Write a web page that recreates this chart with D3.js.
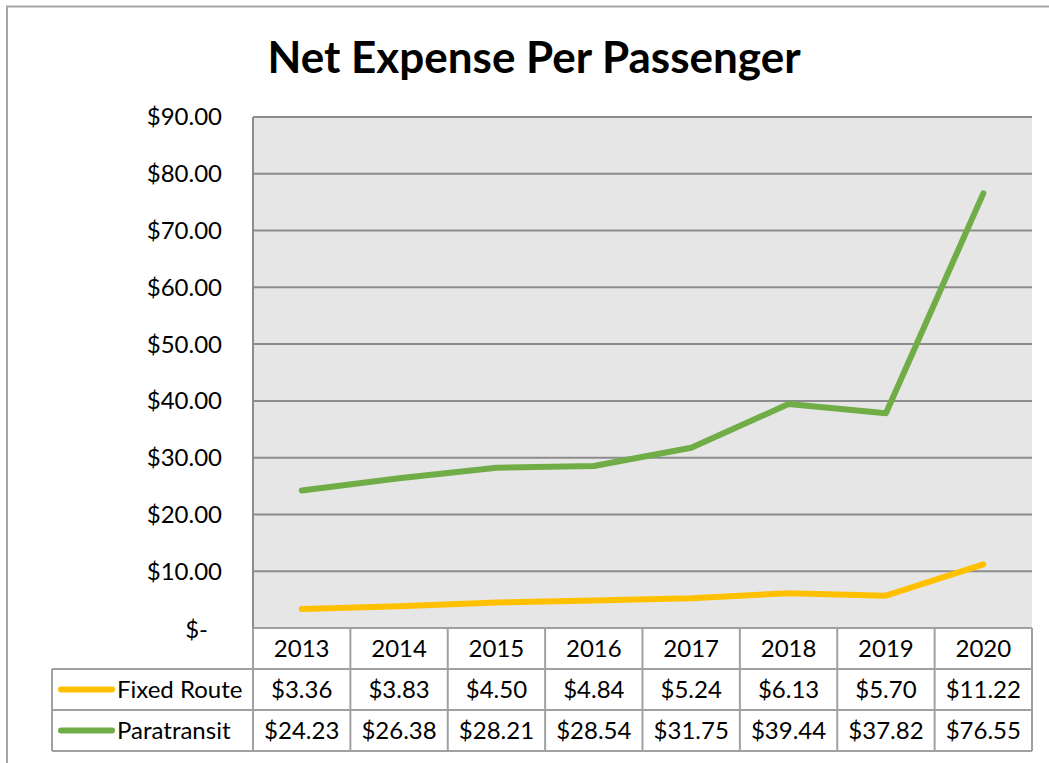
<!DOCTYPE html>
<meta charset="utf-8">
<style>
body { margin: 0; background: #fff; }
text { font-family: Lato, "Open Sans", sans-serif; fill: #000; }
</style>
<svg width="1049" height="763"></svg>
<script src="https://d3js.org/d3.v7.min.js"></script>
<script>

var years = ["2013", "2014", "2015", "2016", "2017", "2018", "2019", "2020"];
var fixedRoute = [3.36, 3.83, 4.50, 4.84, 5.24, 6.13, 5.70, 11.22];
var paratransit = [24.23, 26.38, 28.21, 28.54, 31.75, 39.44, 37.82, 76.55];
var yTicks = [0, 10, 20, 30, 40, 50, 60, 70, 80, 90];

var series = [
  {name: "Fixed Route", values: fixedRoute, color: "#ffc000"},
  {name: "Paratransit", values: paratransit, color: "#70ad47"}
];

var svg = d3.select("svg");

var plotL = 253, plotR = 1032, plotT = 117, plotB = 628,
    rowH = 41, legendLeft = 52;

var x = d3.scaleBand().domain(years).range([plotL, plotR]);
var y = d3.scaleLinear().domain([0, 90]).range([plotB, plotT]);

// outer chart frame
svg.append("path")
    .attr("d", "M7,763V6.5H1049")
    .attr("fill", "none")
    .attr("stroke", "#a6a6a6")
    .attr("stroke-width", 2);

svg.append("text")
    .attr("x", 534)
    .attr("y", 73)
    .attr("text-anchor", "middle")
    .style("font-size", "44px")
    .style("font-weight", "bold")
    .text("Net Expense Per Passenger");

// plot area
svg.append("rect")
    .attr("x", plotL).attr("y", plotT)
    .attr("width", plotR - plotL).attr("height", plotB - plotT)
    .attr("fill", "#e6e6e6");

svg.selectAll(".grid")
  .data(yTicks)
  .enter().append("line")
    .attr("class", "grid")
    .attr("x1", plotL).attr("x2", plotR)
    .attr("y1", function(d) { return y(d); })
    .attr("y2", function(d) { return y(d); })
    .attr("stroke", "#8c8c8c")
    .attr("stroke-width", 2);

svg.append("line")
    .attr("x1", plotL).attr("x2", plotL)
    .attr("y1", plotT).attr("y2", plotB)
    .attr("stroke", "#8c8c8c")
    .attr("stroke-width", 2);

svg.selectAll(".ytick")
  .data(yTicks)
  .enter().append("text")
    .attr("class", "ytick")
    .attr("x", function(d) { return d === 0 ? 208 : 222; })
    .attr("y", function(d) { return y(d) + (d === 0 ? 2 : 0); })
    .attr("dy", "0.35em")
    .attr("text-anchor", "end")
    .style("font-size", "24px")
    .text(function(d) { return d === 0 ? "$-" : "$" + d3.format(".2f")(d); });

var line = d3.line()
    .x(function(d, i) { return x(years[i]) + x.bandwidth() / 2; })
    .y(function(d) { return y(d); });

svg.selectAll(".series")
  .data(series)
  .enter().append("path")
    .attr("class", "series")
    .attr("d", function(d) { return line(d.values); })
    .attr("fill", "none")
    .attr("stroke", function(d) { return d.color; })
    .attr("stroke-width", 6)
    .attr("stroke-linecap", "round")
    .attr("stroke-linejoin", "round");

// data table
var table = svg.append("g");
var tStroke = "#a0a0a0";

table.selectAll(".hrow")
  .data([plotB + rowH, plotB + 2 * rowH, plotB + 3 * rowH])
  .enter().append("line")
    .attr("x1", legendLeft).attr("x2", plotR)
    .attr("y1", function(d) { return d; }).attr("y2", function(d) { return d; })
    .attr("stroke", tStroke).attr("stroke-width", 2);

table.append("line")
    .attr("x1", plotL).attr("x2", plotR)
    .attr("y1", plotB).attr("y2", plotB)
    .attr("stroke", tStroke).attr("stroke-width", 2);

table.selectAll(".vcol")
  .data(years.concat(["end"]))
  .enter().append("line")
    .attr("x1", function(d, i) { return plotL + i * x.step(); })
    .attr("x2", function(d, i) { return plotL + i * x.step(); })
    .attr("y1", plotB).attr("y2", plotB + 3 * rowH)
    .attr("stroke", tStroke).attr("stroke-width", 2);

table.append("line")
    .attr("x1", legendLeft).attr("x2", legendLeft)
    .attr("y1", plotB + rowH).attr("y2", plotB + 3 * rowH)
    .attr("stroke", tStroke).attr("stroke-width", 2);

table.selectAll(".year")
  .data(years)
  .enter().append("text")
    .attr("x", function(d) { return x(d) + x.bandwidth() / 2; })
    .attr("y", plotB + rowH / 2)
    .attr("dy", "0.35em")
    .attr("text-anchor", "middle")
    .style("font-size", "24px")
    .text(function(d) { return d; });

series.forEach(function(s, r) {
  var cy = plotB + rowH * (r + 1) + rowH / 2;
  table.append("line")
      .attr("x1", 61).attr("x2", 112)
      .attr("y1", cy).attr("y2", cy)
      .attr("stroke", s.color)
      .attr("stroke-width", 6)
      .attr("stroke-linecap", "round");
  table.append("text")
      .attr("x", 117).attr("y", cy)
      .attr("dy", "0.35em")
      .style("font-size", "24px")
      .text(s.name);
  table.selectAll(".v" + r)
    .data(s.values)
    .enter().append("text")
      .attr("x", function(d, i) { return x(years[i]) + x.bandwidth() / 2; })
      .attr("y", cy)
      .attr("dy", "0.35em")
      .attr("text-anchor", "middle")
      .style("font-size", "24px")
      .text(function(d) { return "$" + d3.format(".2f")(d); });
});

</script>
